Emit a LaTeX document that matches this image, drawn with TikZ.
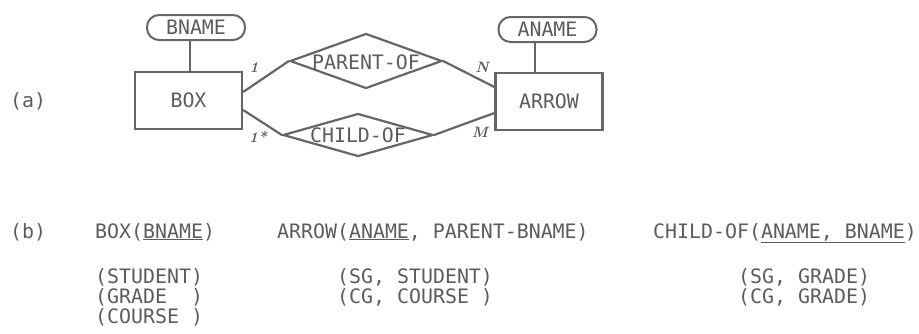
\documentclass[tikz,border=0pt]{standalone}
\usepackage{fontspec}
\setmonofont{DejaVu Sans Mono}
\usetikzlibrary{shapes.geometric,calc}
\definecolor{inkc}{rgb}{0.36,0.36,0.36}
\definecolor{linec}{rgb}{0.40,0.40,0.40}
\begin{document}
\begin{tikzpicture}[x=1pt,y=-1pt,
  mono/.style={font=\ttfamily\fontsize{19.9}{20}\selectfont, text=inkc, inner sep=0pt},
  entbox/.style={draw=linec, line width=2.2pt, rectangle, minimum width=107pt, minimum height=57pt, inner sep=0pt},
  attrpill/.style={draw=linec, line width=2pt, rectangle, rounded corners=12pt, minimum width=98pt, minimum height=25pt, inner sep=0pt},
  relshape/.style={draw=linec, line width=2.2pt, diamond, inner sep=0pt},
  conn/.style={draw=linec, line width=2.2pt},
  card/.style={font=\bfseries\itshape\fontsize{15}{15}\selectfont, text=inkc, inner sep=0pt}]
\useasboundingbox (0,0) rectangle (919,333);

% (a) diagram
\node[mono, anchor=base west] (lbla) at (10,107) {(a)};
\node[entbox, mono] (box) at (188.5,100.5) {BOX};
\node[entbox, mono] (arrow) at (549,101.5) {ARROW};
\node[attrpill, mono] (bname) at (196,27.5) {BNAME};
\node[attrpill, mono] (aname) at (547.5,29.5) {ANAME};
\node[relshape, minimum width=152pt, minimum height=55pt] (parent) at (366,61) {};
\node[mono] (parentlbl) at (366,62) {PARENT-OF};
\node[relshape, minimum width=150pt, minimum height=43pt] (child) at (358,135) {};
\node[mono] (childlbl) at (358,135) {CHILD-OF};

\draw[conn] ([xshift=-6pt]bname.south) -- ([xshift=-6pt]bname.south |- box.north);
\draw[conn] ([xshift=-12.5pt]aname.south) -- ([xshift=-12.5pt]aname.south |- arrow.north);
\draw[conn] ([yshift=8.5pt]box.east) -- (parent.west);
\draw[conn] ([yshift=-9.5pt]box.east) -- (child.west);
\draw[conn] (parent.east) -- ([yshift=14.5pt]arrow.west);
\draw[conn] (child.east) -- ([yshift=-11.5pt]arrow.west);

\node[card] (c1) at (254,68) {1};
\node[card] (cn) at (482,67) {N};
\node[card] (c1s) at (258,137) {1*};
\node[card] (cm) at (480,132) {M};

% (b) relations
\node[mono, anchor=base west] (lblb) at (10,238) {(b)};
\node[mono, anchor=base west] (rbox) at (95,238) {BOX(\underline{BNAME})};
\node[mono, anchor=base west] (rarrow) at (277,238) {ARROW(\underline{ANAME}, PARENT-BNAME)};
\node[mono, anchor=base west] (rchild) at (653,238) {CHILD-OF(\underline{ANAME, BNAME})};

\node[mono, anchor=base west] (b1) at (95,283) {(STUDENT)};
\node[mono, anchor=base west] (b2) at (95,303) {(GRADE~~)};
\node[mono, anchor=base west] (b3) at (95,323) {(COURSE~)};
\node[mono, anchor=base west] (a1) at (337,283) {(SG, STUDENT)};
\node[mono, anchor=base west] (a2) at (337,303) {(CG, COURSE~)};
\node[mono, anchor=base west] (cr1) at (738,283) {(SG, GRADE)};
\node[mono, anchor=base west] (cr2) at (738,303) {(CG, GRADE)};
\end{tikzpicture}
\end{document}
